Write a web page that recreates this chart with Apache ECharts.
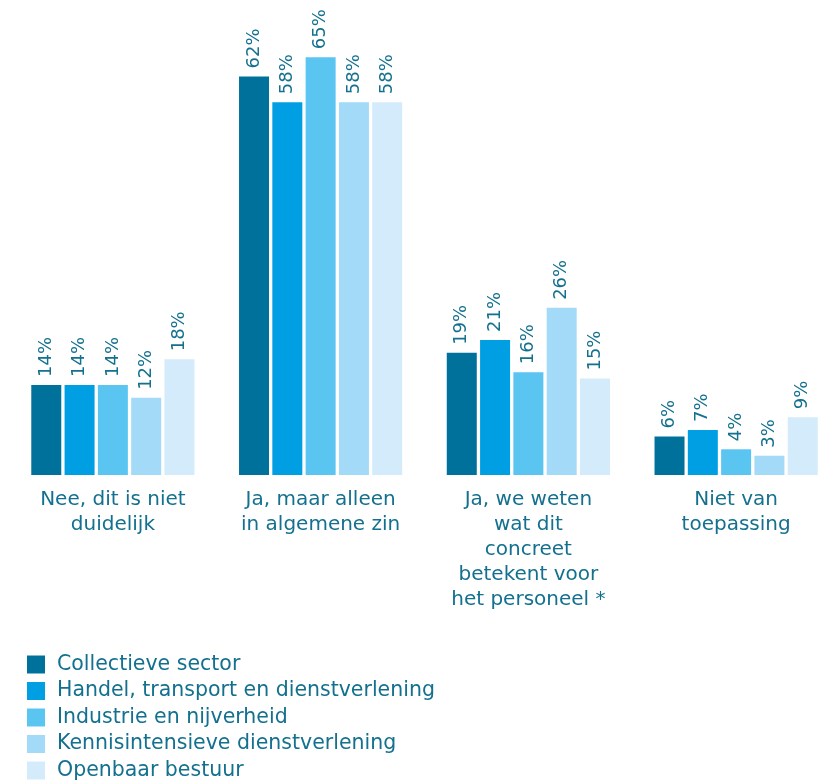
<!DOCTYPE html>
<html>
<head>
<meta charset="utf-8">
<script src="https://cdn.jsdelivr.net/npm/echarts@6/dist/echarts.min.js"></script>
<style>
  html, body { margin: 0; padding: 0; background: #ffffff; overflow: hidden; }
  #chart { width: 840px; height: 782px; }
</style>
</head>
<body>
<div id="chart"></div>
<script>
// Answer categories along the x axis
const categories = [
  'Nee, dit is niet\nduidelijk',
  'Ja, maar alleen\nin algemene zin',
  'Ja, we weten\nwat dit\nconcreet\nbetekent voor\nhet personeel *',
  'Niet van\ntoepassing'
];

// Sector names (one series each)
const sectors = [
  'Collectieve sector',
  'Handel, transport en dienstverlening',
  'Industrie en nijverheid',
  'Kennisintensieve dienstverlening',
  'Openbaar bestuur'
];

// Percentages per sector, in category order
const collectieve = [14, 62, 19, 6];
const handel = [14, 58, 21, 7];
const industrie = [14, 65, 16, 4];
const kennis = [12, 58, 26, 3];
const openbaar = [18, 58, 15, 9];

const sectorValues = [collectieve, handel, industrie, kennis, openbaar];
const sectorColors = ['#00719a', '#009fe3', '#5bc5f2', '#a3daf8', '#d4ebfb'];
const textColor = '#13708f';
const fontFamily = '"DejaVu Sans", "Noto Sans", sans-serif';

const chart = echarts.init(document.getElementById('chart'));

chart.setOption({
  animation: false,
  textStyle: { fontFamily: fontFamily },
  grid: { left: 9, right: 0, top: 25, bottom: 307 },
  legend: {
    orient: 'vertical',
    left: 27,
    top: 654,
    padding: 0,
    height: 200,
    icon: 'rect',
    itemWidth: 18,
    itemHeight: 18,
    itemGap: 5.5,
    textStyle: { color: textColor, fontSize: 20.5, lineHeight: 18, fontFamily: fontFamily, padding: [0, 0, 0, 7] },
    data: sectors
  },
  xAxis: {
    type: 'category',
    data: categories,
    axisLine: { show: false },
    axisTick: { show: false },
    axisLabel: {
      color: textColor,
      fontSize: 20,
      lineHeight: 25,
      margin: 12,
      interval: 0,
      fontFamily: fontFamily
    }
  },
  yAxis: {
    type: 'value',
    min: 0,
    max: 70,
    show: false
  },
  series: sectors.map((name, i) => ({
    name: name,
    type: 'bar',
    data: sectorValues[i],
    barWidth: 30,
    barGap: '11%',
    barCategoryGap: '22%',
    itemStyle: { color: sectorColors[i] },
    label: {
      show: true,
      position: 'top',
      rotate: 90,
      align: 'left',
      verticalAlign: 'middle',
      distance: 8,
      color: textColor,
      fontSize: 18,
      fontFamily: fontFamily,
      formatter: '{c}%'
    }
  }))
});
</script>
</body>
</html>
